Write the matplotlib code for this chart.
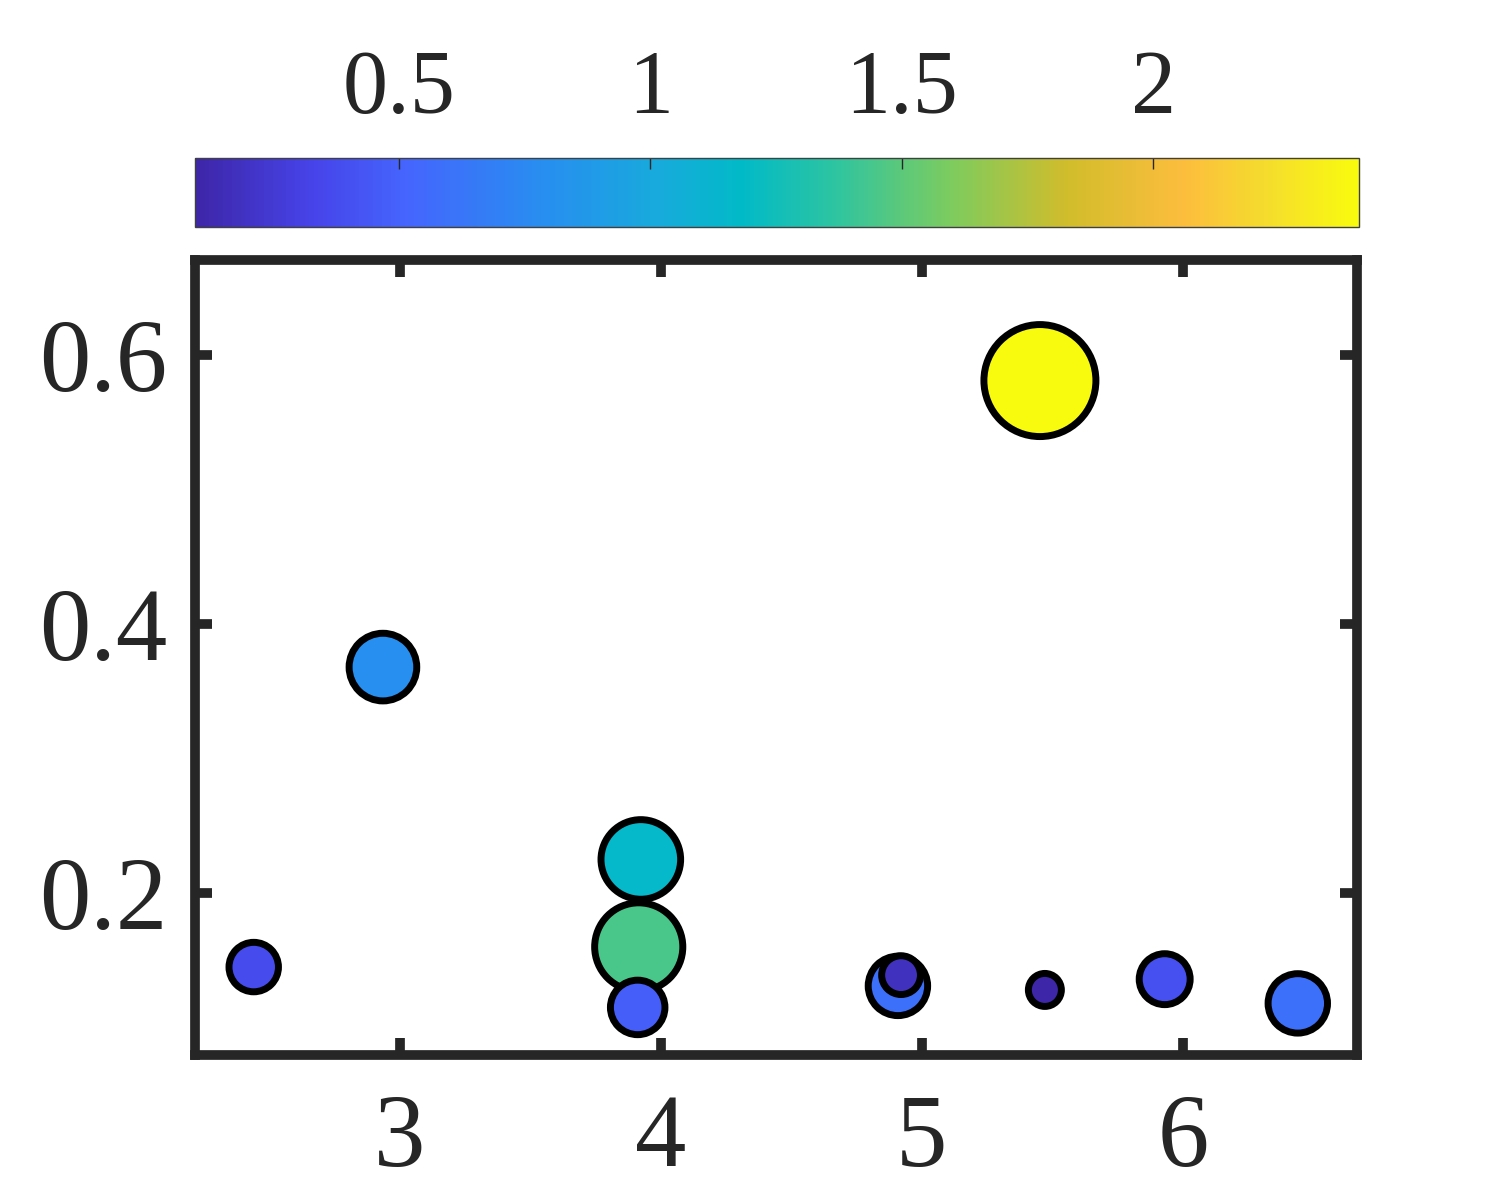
"""
Bubble chart with a parula-like colour scale on top.
"""
import numpy as np
import matplotlib
matplotlib.use('Agg')
from matplotlib import pyplot as plt
from matplotlib.colors import LinearSegmentedColormap, Normalize

# data
x_vals = [2.44, 2.935, 3.923, 3.915, 3.911, 4.908, 4.92, 5.452, 5.471, 5.93, 6.44]
y_vals = [0.145, 0.368, 0.225, 0.160, 0.115, 0.131, 0.139, 0.581, 0.128, 0.136, 0.118]
c_vals = [0.37, 0.80, 1.156, 1.445, 0.476, 0.589, 0.180, 2.409, 0.096, 0.40, 0.589]
x_ticks = [3, 4, 5, 6]
y_ticks = [0.2, 0.4, 0.6]
cb_ticks = [0.5, 1, 1.5, 2]
cb_ticklabels = ['0.5', '1', '1.5', '2']

# approximate MATLAB parula
parula_pts = [
    (0.00, (0.2422, 0.1504, 0.6603)),
    (0.10, (0.2760, 0.2650, 0.9170)),
    (0.18, (0.2700, 0.3950, 0.9950)),
    (0.30, (0.1540, 0.5600, 0.9400)),
    (0.40, (0.0900, 0.6700, 0.8600)),
    (0.47, (0.0040, 0.7300, 0.7800)),
    (0.55, (0.1800, 0.7700, 0.6300)),
    (0.65, (0.4900, 0.8000, 0.3700)),
    (0.75, (0.8200, 0.7400, 0.1700)),
    (0.85, (0.9900, 0.7400, 0.2400)),
    (0.92, (0.9600, 0.8600, 0.1800)),
    (1.00, (0.9763, 0.9831, 0.0538)),
]
parula = LinearSegmentedColormap.from_list('parula', parula_pts)

plt.rcParams['font.family'] = ['Liberation Serif', 'DejaVu Serif']
text_col = '#262626'

c = np.array(c_vals)
vmin, vmax = c.min(), c.max()
norm = Normalize(vmin=vmin, vmax=vmax)
# bubble area grows linearly with the value (like bubblechart)
smin, smax = (2 * 16.5 * 0.72) ** 2, (2 * 56 * 0.72) ** 2
sizes = smin + (smax - smin) * (c - vmin) / (vmax - vmin)

fig = plt.figure(figsize=(15, 12), dpi=100)
ax = fig.add_axes([0.130, 0.1208, 0.7747, 0.6625])

order = np.argsort(-c)  # big bubbles first so small ones sit on top
sc = ax.scatter(np.array(x_vals)[order], np.array(y_vals)[order], s=sizes[order],
                c=c[order], cmap=parula, norm=norm,
                edgecolors='black', linewidths=5, zorder=3)

ax.set_xlim(2.215, 6.667)
ax.set_ylim(0.0796, 0.6706)
ax.set_xticks(x_ticks)
ax.set_yticks(y_ticks)
ax.set_yticklabels(['0.2', '0.4', '0.6'])
for sp in ax.spines.values():
    sp.set_linewidth(7)
    sp.set_color(text_col)
ax.tick_params(direction='in', length=12, width=7, colors=text_col,
               labelsize=74, top=True, right=True)
ax.tick_params(axis='x', pad=28)
ax.tick_params(axis='y', pad=20)

cax = fig.add_axes([0.1303, 0.8108, 0.7757, 0.0575])
cb = fig.colorbar(sc, cax=cax, orientation='horizontal')
cb.set_ticks(cb_ticks)
cb.set_ticklabels(cb_ticklabels)
cax.xaxis.set_ticks_position('top')
cax.xaxis.set_label_position('top')
cax.tick_params(direction='in', length=8, width=1, colors=text_col,
                labelsize=65, pad=19)
cb.outline.set_linewidth(1)
cb.outline.set_edgecolor('#404040')

fig.savefig('out.png', dpi=100)
